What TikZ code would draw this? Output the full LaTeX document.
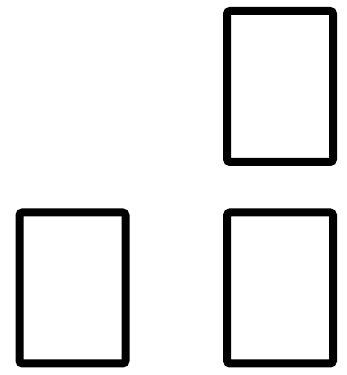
\documentclass[tikz,border=0pt]{standalone}
\usepackage{tikz}
\usetikzlibrary{positioning}

\begin{document}
\begin{tikzpicture}[x=1pt, y=1pt,
    panel/.style={draw=black, line width=8pt, rounded corners=3pt, minimum width=106pt, minimum height=151pt, inner sep=0pt, outer sep=0pt}]
  \useasboundingbox (0,0) rectangle (347,375);
  \node[panel] (topright) at (280,288.5) {};
  \node[panel] (bottomleft) at (72.5,87) {};
  \node[panel] (bottomright) at (280,87) {};
\end{tikzpicture}
\end{document}
